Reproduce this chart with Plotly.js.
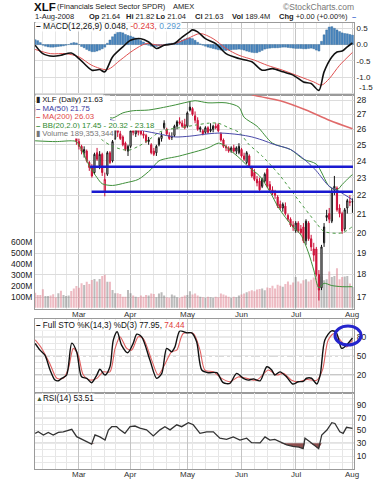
<!DOCTYPE html>
<html><head><meta charset="utf-8">
<script src="https://cdn.plot.ly/plotly-3.0.1.min.js"></script>
<style>html,body{margin:0;padding:0;background:#fff}#chart{width:384px;height:480px}</style>
</head><body><div id="chart"></div>
<script>
// ---------- data ----------
const monthLabels = ['Mar','Apr','May','Jun','Jul','Aug'];
const monthIdx = [17,37,59,80,101,123];
const weekIdx = [3,8,12,22,27,31,41,46,51,56,61,66,71,76,85,90,95,100,104,109,114,119];

const opens = [27.3,27.0,26.9,26.7,26.7,26.9,27.2,26.6,26.6,26.2,26.7,26.4,26.8,27.1,27.4,27.1,26.4,
25.2,24.9,24.5,24.6,23.9,23.6,23.3,24.5,23.7,24.4,22.2,23.2,24.5,24.0,25.4,26.0,25.7,25.5,25.1,24.6,
24.9,25.9,25.7,26.0,26.1,25.7,25.6,25.2,25.0,24.6,24.5,25.0,25.4,26.1,26.0,25.6,25.5,25.6,26.2,26.5,26.4,26.3,
26.2,27.3,27.4,26.9,26.6,26.0,25.9,25.8,26.1,25.9,26.0,26.2,26.3,25.7,25.3,24.9,24.8,24.6,24.8,24.6,24.5,
24.7,24.3,23.9,24.3,23.6,23.3,22.9,22.8,22.5,22.8,23.5,22.6,22.3,22.1,21.9,21.5,21.3,21.4,20.9,20.7,20.4,
20.1,20.5,20.2,20.3,19.6,20.5,19.7,19.2,19.2,18.0,17.4,19.5,20.8,21.0,20.6,22.3,22.4,21.3,21.0,20.2,21.3,21.6,21.64];
const highs = [27.5,27.2,27.0,26.9,27.2,27.4,27.3,26.8,26.8,26.8,26.9,26.9,27.3,27.6,27.6,27.2,26.5,
25.4,25.0,24.9,24.7,24.0,23.8,24.5,24.8,24.6,24.5,23.3,24.6,24.6,25.3,26.2,26.1,25.9,25.6,25.2,25.0,
26.0,26.2,26.1,26.3,26.4,25.9,25.7,25.5,25.1,24.8,25.0,25.5,25.8,26.6,26.1,25.8,25.8,26.3,26.6,26.8,26.6,26.7,
27.2,27.9,27.5,27.2,26.8,26.2,26.0,26.2,26.2,26.4,26.3,26.4,26.4,25.8,25.4,25.0,24.9,24.9,25.0,24.9,25.1,
24.8,24.5,24.6,24.4,23.7,23.5,23.1,23.0,23.0,23.3,23.6,22.8,22.5,22.3,22.0,21.7,21.6,21.6,21.0,20.8,20.6,
20.6,20.6,20.4,20.5,20.7,20.6,19.9,19.5,19.3,18.2,19.4,20.5,21.2,21.3,22.4,23.1,22.5,21.5,21.1,21.3,21.8,22.0,21.82];
const lows = [26.9,26.6,26.5,26.4,26.6,26.8,26.6,26.3,26.2,26.1,26.3,26.2,26.7,27.0,27.1,26.5,25.0,
24.7,24.4,24.2,23.9,23.4,23.0,23.2,24.0,23.5,23.1,21.94,23.1,23.8,23.9,25.3,25.5,25.3,24.9,24.6,24.3,
24.8,25.6,25.5,25.6,25.6,25.4,25.1,25.0,24.4,24.3,24.3,24.9,25.2,26.0,25.6,25.3,25.3,25.5,26.0,26.3,26.1,26.0,
26.1,27.2,26.9,26.4,25.9,25.8,25.6,25.7,25.7,25.8,25.8,26.0,25.8,25.2,24.8,24.6,24.5,24.5,24.5,24.4,24.4,
24.2,24.0,23.8,23.6,23.0,22.8,22.5,22.2,22.4,22.7,22.4,22.2,22.0,21.8,21.3,21.2,21.1,20.9,20.6,20.3,20.1,
20.0,20.0,19.9,19.5,19.4,19.6,19.1,18.6,17.9,16.85,17.3,19.3,20.6,20.5,20.5,22.0,21.1,20.8,19.95,20.1,21.0,21.4,21.04];
const closes = [27.1,26.8,26.7,26.6,26.9,27.2,26.7,26.4,26.3,26.6,26.4,26.8,27.2,27.5,27.3,26.6,25.2,
24.9,24.6,24.7,24.0,23.6,23.1,24.4,24.1,24.4,23.3,22.9,24.5,23.9,25.2,26.0,25.8,25.4,25.0,24.7,24.9,
25.9,25.8,26.0,25.8,25.7,25.6,25.2,25.3,24.5,24.4,24.9,25.4,25.6,26.4,25.7,25.4,25.5,26.2,26.5,26.4,26.2,26.1,
27.1,27.5,27.0,26.6,26.0,26.1,25.7,26.1,25.8,26.0,26.2,26.1,25.9,25.3,24.9,24.8,24.6,24.8,24.6,24.8,24.9,
24.3,24.1,24.5,23.7,23.1,22.9,22.7,22.3,22.9,23.2,22.5,22.3,22.1,22.0,21.4,21.3,21.5,21.0,20.7,20.4,20.3,
20.5,20.1,20.0,19.6,20.6,19.7,19.3,18.9,18.0,17.3,19.3,20.3,20.9,20.7,22.2,22.5,21.2,21.0,20.1,21.2,21.7,21.63,21.63];
const volumesM = [137,115,115,167,106,106,110,122,94,131,155,115,106,110,152,176,198,182,222,207,237,215,253,262,240,262,289,300,237,237,161,131,131,125,100,100,161,131,
110,100,95,110,100,115,110,130,125,95,130,140,110,95,90,120,110,95,90,100,110,115,150,120,130,110,100,95,90,100,95,90,100,95,130,120,110,100,90,100,95,110,
120,130,140,150,160,150,165,170,175,160,185,180,200,175,210,200,190,215,240,210,230,280,240,220,250,260,240,255,275,280,300,285,250,260,330,280,290,360,260,280,285,290,220,189];

const ma50X = [0,10,20,30,36,42,48,54,60,67,72,79,84,88,93,99,105,109,114,118,123];
const ma50 = [27.6,27.4,27.0,26.6,26.2,25.9,25.7,25.5,25.55,25.7,25.75,25.65,25.5,25.3,25.0,24.7,24.0,23.4,22.5,22.2,21.75];
const ma200X = [82,85,95,105,114,123];
const ma200 = [28.55,28.33,27.95,27.3,26.6,26.03];
const bbUpX = [0,8,16,22,27,30,34,38,44,53,59,62,67,74,79,81,86,92,99,104,109,114,117,119,122,123];
const bbUp = [27.9,27.7,27.8,27.3,26.9,26.75,27.1,27.25,27.3,27.6,27.85,27.95,27.8,27.8,27.5,26.8,26.2,25.1,24.7,24.1,23.8,22.5,22.3,22.6,23.05,23.18];
const bbMidX = [0,8,17,22,26,30,36,40,44,48,52,56,63,67,71,75,79,83,88,95,102,109,112,119,123];
const bbMid = [26.8,26.6,26.4,25.9,25.3,24.9,24.65,24.9,25.3,25.8,26.0,26.1,26.3,26.4,26.4,26.1,25.8,25.0,24.3,23.1,21.74,20.5,20.07,20.0,20.32];
const bbLowX = [0,8,14,16,18,21,24,26,30,35,40,45,48,56,67,71,73,76,79,83,87,91,94,97,100,103,106,108,110,112,115,119,123];
const bbLow = [25.25,25.2,25.25,25.2,24.7,23.7,23.0,22.65,22.55,22.7,22.9,23.5,24.0,24.3,24.8,25.1,25.0,24.6,24.2,23.6,23.1,22.2,21.4,20.8,20.3,19.9,19.0,18.2,17.4,17.6,17.5,17.45,17.45];
const levelPrices = [23.65, 22.2];
const levelFrom = [21.3, 21.9];
const levelTo = 123.2;

const macdX = [0,3,7,10,14,17,22,25,27,30,34,37,41,44,47,50,54,57,60,61,63,66,70,74,79,84,88,92,96,100,104,107,110,112,115,117,119,121,123];
const macd = [-0.02,-0.28,-0.36,-0.33,-0.26,-0.43,-0.79,-0.77,-0.84,-0.38,-0.07,0.13,0.18,0.08,-0.12,-0.02,0.03,0.23,0.4,0.45,0.39,0.18,0.03,-0.28,-0.43,-0.53,-0.79,-0.74,-0.84,-0.94,-1.15,-1.2,-1.41,-0.84,-0.38,-0.23,-0.2,-0.07,0.048];
const signalX = [0,6,12,17,22,28,33,38,43,48,54,59,64,69,74,79,85,90,96,103,108,111,114,118,123];
const signal = [-0.15,-0.28,-0.28,-0.38,-0.64,-0.77,-0.48,-0.18,0.03,-0.02,0.03,0.18,0.34,0.18,-0.12,-0.33,-0.48,-0.64,-0.79,-1.0,-1.15,-1.25,-1.05,-0.64,-0.243];
const hist = [0.15,0.12,0.06,
-0.02,-0.05,-0.07,-0.08,-0.08,-0.07,-0.06,-0.05,-0.04,-0.02,0.0,
0.04,0.06,0.05,0.0,
-0.06,-0.1,-0.15,-0.19,-0.22,-0.22,-0.2,-0.17,-0.13,-0.08,
0.04,0.14,0.24,0.32,0.37,0.38,0.36,0.31,
0.28,0.26,0.23,0.2,0.16,0.12,0.08,
0.03,-0.02,-0.05,-0.07,-0.06,-0.04,-0.02,
0.0,0.02,0.03,0.04,0.05,0.07,0.1,
0.14,0.17,0.2,0.2,0.18,0.13,0.07,0.02,
-0.02,-0.05,-0.08,-0.1,-0.12,-0.14,-0.16,-0.17,-0.18,-0.18,-0.17,-0.16,-0.15,-0.15,-0.14,
-0.15,-0.17,-0.2,-0.22,-0.24,-0.25,-0.25,-0.22,-0.18,-0.14,-0.12,-0.11,-0.1,-0.1,-0.1,-0.09,
-0.08,-0.08,-0.09,-0.1,-0.11,-0.12,-0.12,-0.12,-0.13,-0.13,-0.12,-0.11,-0.13,-0.17,-0.2,
0.1,0.3,0.45,0.54,0.55,0.5,0.45,0.4,0.36,0.34,0.33,0.31,0.29];

const stoKX = [0,1.9,3.8,5.8,7.7,9,10.3,12.2,14.2,16.1,18,20,21.9,23.9,25.1,27.1,29,30.3,31.8,33.5,35.9,38,39.4,41.3,44.5,47.1,49.1,51,52.9,54.2,56.1,58.7,60.7,62.6,64.6,67.1,70.4,72.9,75.5,78.1,80.7,82.6,84.6,87.2,89.8,91.7,92.9,94.9,97.5,99.8,102,103.9,105.2,107.1,109.2,110.5,112.3,114.9,116.8,118.8,120.7,123];
const stoK = [69.5,59,51,27.8,12.2,11,14.8,20,70,56.4,17.3,14.8,8,20,29,20,33,74.7,87.7,66.9,54.8,69.5,84,79.8,43.4,14.8,22.6,61.7,56.4,64.2,89.2,86.1,86,72,27.8,23.6,23.6,8,7,22.6,14.8,12,14,11,33,28,20,25,17,6,9.5,10,15,15,6,20,74.7,89.2,86,61.7,66.9,77.95];
const stoDX = [0,2.5,5.8,8.4,10.9,12.9,14.8,16.7,18.7,21.3,23.9,26.4,29,31,32.9,35.5,37.4,40,41.9,45.2,47.7,50.3,52.9,54.9,57.4,61.3,63.9,65.8,69.1,72.3,75.5,78.7,82,85.9,90.4,93.6,96.2,99.4,102.2,105.4,109.2,111.4,113.6,115.9,118.8,120.7,123];
const stoD = [75,62,37,15,14.8,30,61.7,51,20,12.2,14.8,25,25,61.7,79.8,61.7,59,79.8,77,43,20,37,56.4,59,85,85,59,27.8,25,14.8,9.5,17,14.8,12,28,20,22.6,12,9.5,13,12,28,74.7,85,72,64,74.44];

const rsiX = [0,1.2,3.2,5.1,7,9,10.9,12.9,14.2,16.1,18.7,21.3,21.9,23.2,25.1,27.1,28.4,29.7,31.6,32.9,34.8,36.8,38.7,40.6,43.2,45.8,48.4,50.3,52.3,54.9,56.8,59.4,61.3,63.9,66.5,69.1,71.6,74.2,76.8,79.4,82,83.9,85.9,87.2,89.1,91,92.9,94.9,97.5,99.9,102.2,103.9,104.6,106.5,108.5,109.9,111.1,113.1,115,116.2,118.1,119.4,120.7,123];
const rsi = [45.6,48,43,47,43,47,48,50.8,51.8,40.3,35,30,28.6,43,40,35,50.8,56,56,51,45.6,56,57,53.6,51,41.5,51,56,51,59,56,62.3,59,45.6,48,48,37.9,36,40,35,37.9,31,30.5,30.5,40,35,36,32.5,27.5,25,24,21.5,37.9,32.5,25.8,21.5,43,50.8,62.3,61,48,45.6,55,53.51];

// ---------- helpers ----------
const W = 384, H = 480;
const px = x => x / W, py = y => 1 - y / H;
const FONT = 'Liberation Sans, Arial, sans-serif';
const xDom = [px(35), px(354)];
const xRange = [-0.05, 123.6];
const idx = closes.map((_, i) => i);

const upI = [], dnI = [];
closes.forEach((c, i) => { const prev = i ? closes[i-1] : opens[i]; (c < prev ? dnI : upI).push(i); });
const pick = (a, ii) => ii.map(i => a[i]);
const RED = '#cc1038';

const traces = [];
traces.push({type:'bar', x: idx, y: volumesM, xaxis:'x2', yaxis:'y2',
  marker:{color: closes.map((c,i)=> (c < (i?closes[i-1]:opens[i])) ? 'rgba(222,120,135,0.5)' : 'rgba(120,120,120,0.5)'), line:{width:0}},
  hoverinfo:'skip', showlegend:false});
const line = (x, y, color, width, dash, ax='y5', xa='x2', shape='spline') => ({type:'scatter', mode:'lines', x, y, xaxis:xa, yaxis:ax,
  line:{color, width, dash: dash||'solid', shape, smoothing:0.8}, hoverinfo:'skip', showlegend:false});
traces.push(line(bbUpX, bbUp, '#3f8f3a', 1));
traces.push(line(bbLowX, bbLow, '#3f8f3a', 1));
traces.push(line(bbMidX, bbMid, '#4a9a44', 1, 'dot'));
traces.push(line(ma50X, ma50, '#4848a8', 1));
traces.push(line(ma200X, ma200, '#e06a6a', 1.5));
const candle = (ii, col, fillDown) => ({type:'candlestick', x: ii, open: pick(opens, ii), high: pick(highs, ii), low: pick(lows, ii), close: pick(closes, ii),
  xaxis:'x2', yaxis:'y5', whiskerwidth:0,
  increasing:{line:{color:col, width:1}, fillcolor:'#ffffff'},
  decreasing:{line:{color:col, width:1}, fillcolor:fillDown},
  hoverinfo:'skip', showlegend:false});
traces.push(candle(upI, '#111111', '#111111'));
traces.push(candle(dnI, RED, RED));
levelPrices.forEach((p, k) => traces.push({type:'scatter', mode:'lines', x:[levelFrom[k], levelTo], y:[p, p], xaxis:'x2', yaxis:'y5',
  line:{color:'#1a1ad0', width:2.5}, hoverinfo:'skip', showlegend:false}));
traces.push({type:'bar', x: idx, y: hist, xaxis:'x', yaxis:'y', marker:{color:'#4a86c0', line:{color:'#2e6496', width:0.4}}, hoverinfo:'skip', showlegend:false});
traces.push(line(signalX, signal, '#e05050', 1, null, 'y', 'x'));
traces.push(line(macdX, macd, '#111111', 1.6, null, 'y', 'x'));
traces.push(line(stoDX, stoD, '#e06060', 1.1, null, 'y3', 'x3'));
traces.push(line(stoKX, stoK, '#111111', 1.4, null, 'y3', 'x3'));
traces.push({type:'scatter', mode:'lines', x: rsiX, y: rsiX.map(()=>30), xaxis:'x4', yaxis:'y4', line:{width:0, color:'rgba(0,0,0,0)'}, hoverinfo:'skip', showlegend:false});
traces.push({type:'scatter', mode:'lines', x: rsiX, y: rsi.map(v=>Math.min(v,30)), xaxis:'x4', yaxis:'y4', fill:'tonexty', fillcolor:'#8c4f4f', line:{width:0, color:'rgba(0,0,0,0)'}, hoverinfo:'skip', showlegend:false});
traces.push(line(rsiX, rsi, '#333333', 1.3, null, 'y4', 'x4', 'linear'));

// ---------- axes ----------
const xBase = (anchor) => ({domain:xDom, range:xRange, anchor, fixedrange:true,
  tickmode:'array', tickvals: monthIdx, ticktext: monthLabels, showticklabels: false, ticks:'', ticklen:0,
  showgrid:true, gridcolor:'#c4c4c4', gridwidth:1, zeroline:false,
  showline:true, mirror:true, linecolor:'#9a9a9a', linewidth:1,
  minor:{tickmode:'array', tickvals: weekIdx, showgrid:true, gridcolor:'#e6e6e6', ticks:''}});
const yRight = (domain, range, tv, tt, extra={}) => Object.assign({domain, range, side:'right', fixedrange:true,
  tickmode:'array', tickvals:tv, ticktext:tt, ticks:'', tickfont:{family:FONT, size:8.5, color:'#222'},
  showgrid:true, gridcolor:'#dcdcdc', zeroline:false, showline:true, mirror:true, linecolor:'#9a9a9a', linewidth:1}, extra);

const priceTicks = [17,18,19,20,21,22,23,24,25,26,27,28];
const layout = {
  width:W, height:H, margin:{l:0,r:0,t:0,b:0}, paper_bgcolor:'#fff', plot_bgcolor:'#fff',
  showlegend:false, bargap:0.22, boxgap:0.35, font:{family:FONT},
  xaxis: xBase('y'),
  xaxis2: Object.assign(xBase('y2'), {rangeslider:{visible:false}}),
  xaxis3: xBase('y3'),
  xaxis4: xBase('y4'),
  yaxis: yRight([py(95), py(23)], [-1.552, 0.663], [0.5,0,-0.5,-1,-1.5], ['0.5','0.0','-0.5','-1.0',''], {anchor:'x', tickfont:{family:FONT, size:8, color:'#222'}}),
  yaxis2: {domain:[py(308.5), py(95)], range:[-8, 1945], anchor:'x2', side:'left', fixedrange:true,
    tickmode:'array', tickvals:[100,200,300,400,500,600], ticktext:['100M','200M','300M','400M','500M','600M'],
    ticks:'', tickfont:{family:FONT, size:8.5, color:'#222'}, showgrid:false, zeroline:false,
    showline:true, mirror:true, linecolor:'#9a9a9a', linewidth:1},
  yaxis5: yRight([py(308.5), py(95)], [1.21780, 1.45266], priceTicks, priceTicks.map(String), {type:'log', overlaying:'y2', anchor:'x2'}),
  yaxis3: yRight([py(393), py(319)], [-8.1, 107.7], [80,50,20], ['80','50','20'], {anchor:'x3', showgrid:false,
    minor:{tickmode:'linear', tick0:0, dtick:10, showgrid:true, gridcolor:'#e8e8e8', ticks:''}}),
  yaxis4: yRight([py(469), py(393)], [-10.35, 108.8], [90,70,50,30,10], ['90','70','50','30','10'], {anchor:'x4', showgrid:false,
    minor:{tickmode:'linear', tick0:0, dtick:10, showgrid:true, gridcolor:'#e8e8e8', ticks:''}}),
  shapes: [], annotations: []
};

const hl = (yref, y, dash, color) => ({type:'line', xref:'paper', x0:xDom[0], x1:xDom[1], yref, y0:y, y1:y, layer:'below', line:{color, width:1, dash}});
layout.shapes.push(hl('y3', 80, 'solid', '#8a8a8a'), hl('y3', 20, 'solid', '#8a8a8a'), hl('y3', 50, 'dashdot', '#9a9a9a'));
layout.shapes.push(hl('y4', 70, 'solid', '#8a8a8a'), hl('y4', 30, 'solid', '#8a8a8a'), hl('y4', 50, 'dashdot', '#9a9a9a'));
layout.shapes.push({type:'rect', xref:'paper', yref:'paper', x0:px(35.5), x1:px(110), y0:py(138), y1:py(95.5), fillcolor:'#ffffff', line:{width:0}, layer:'above'});
layout.shapes.push({type:'circle', xref:'paper', yref:'paper', x0:px(335), x1:px(361), y0:py(345), y1:py(326), line:{color:'#2424cc', width:3}, layer:'above'});

const T = (x, y, text, size, color, extra={}) => layout.annotations.push(Object.assign({xref:'paper', yref:'paper', x:px(x), y:py(y),
  xanchor:'left', yanchor:'middle', text, showarrow:false, font:{family:FONT, size, color: color||'#111'}}, extra));
// header
T(32, 6.5, '<b>XLF</b>', 11.5);
T(55, 7, '(Financials Select Sector SPDR)', 7.5, '#222');
T(171, 7, 'AMEX', 7.5, '#222');
T(356, 7, '©StockCharts.com', 8.5, '#777', {xanchor:'right'});
T(33, 16.5, '1-Aug-2008', 7.5, '#222');
T(87, 16.5, '<b>Op</b> 21.64', 7.5, '#222');
T(124, 16.5, '<b>Hi</b> 21.82', 7.5, '#222');
T(154, 16.5, '<b>Lo</b> 21.04', 7.5, '#222');
T(193, 16.5, '<b>Cl</b> 21.63', 7.5, '#222');
T(230, 16.5, '<b>Vol</b> 189.4M', 7.5, '#222');
T(277, 16.5, '<b>Chg</b> +0.00 (+0.00%)', 7.5, '#222');
T(350, 16.5, '<b>–</b>', 7.5, '#3a6ad0');
// lowest MACD tick label, lifted so it sits just above the price panel
layout.annotations.push({xref:'paper', yref:'y', x:px(356.5), y:-1.5, xanchor:'left', yanchor:'bottom', yshift:-1,
  text:'-1.5', showarrow:false, font:{family:FONT, size:8, color:'#222'}});
// MACD legend
T(35, 26, '<b>–</b> MACD(12,26,9) 0.048, <span style="color:#e04040">-0.243,</span> <span style="color:#5a9ad0">0.292</span>', 8.5, '#111', {bgcolor:'rgba(255,255,255,0.85)', borderpad:0});
// main legend
const legBg = {bgcolor:'#ffffff', borderpad:0};
T(35, 99.8, '<span style="color:#222">▮</span> XLF (Daily) 21.63', 7.8, '#111', legBg);
T(35, 108.3, '<b>–</b> MA(50) 21.75', 7.8, '#3838a0', legBg);
T(35, 116.8, '<b>–</b> MA(200) 26.03', 7.8, '#e04848', legBg);
T(35, 125.3, '<b>–</b> BB(20,2.0) 17.45 - 20.32 - 23.18', 7.8, '#2f8a2f', legBg);
T(35, 133.8, '<span style="color:#777">▮</span> Volume 189,353,344', 7.8, '#777', legBg);
// STO / RSI legends
T(35, 325, '<b>–</b> Full STO %K(14,3) %D(3) 77.95, <span style="color:#e04040">74.44</span>', 8.2, '#111', {bgcolor:'rgba(255,255,255,0.85)', borderpad:0});
T(35, 398.5, '<span style="color:#3a5a3a;font-size:7px">▲</span>RSI(14) 53.51', 8.2, '#111', {bgcolor:'rgba(255,255,255,0.85)', borderpad:0});
// month labels under the price panel and under RSI
const monthRow = (xref, yPix) => monthIdx.forEach((m, k) => layout.annotations.push({xref, yref:'paper', x:m, y:py(yPix), xanchor:'center', yanchor:'middle',
  text: monthLabels[k], showarrow:false, font:{family:FONT, size:8, color:'#333'}}));
monthRow('x2', 314);
monthRow('x4', 474);

Plotly.newPlot('chart', traces, layout, {displayModeBar:false, staticPlot:true});
</script>
</body></html>
